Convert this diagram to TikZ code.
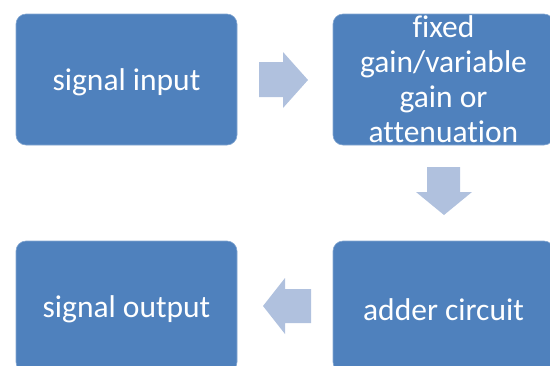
\documentclass[tikz,border=0pt]{standalone}
\usepackage{fontspec}
\setmainfont[Ligatures=NoCommon]{Carlito}
\definecolor{boxblue}{HTML}{4F81BD}
\definecolor{arrowblue}{HTML}{B0C1DE}
\newcommand{\lowtext}[1]{\raisebox{-3pt}[\height][\depth]{#1}}
\begin{document}
\begin{tikzpicture}[x=1pt,y=-1pt,
  block/.style={rectangle, rounded corners=10pt, fill=boxblue, draw=boxblue!70!white, line width=0.6pt,
    minimum width=221pt, minimum height=131pt, inner sep=0pt, text=white, align=center,
    font=\fontsize{31.5}{35}\selectfont},
  blockarrow/.style={fill=arrowblue, draw=none}]
\useasboundingbox (0,0) rectangle (550,365);
\clip (0,0) rectangle (550,365);
\node[block] (in)  at (126.5,79.5)  {\lowtext{signal input}};
\node[block] (amp) at (443.5,79.5)  {fixed\\gain/variable\\gain or\\attenuation};
\node[block] (add) at (443.5,306.5) {\lowtext{adder circuit}};
\node[block] (out) at (126.5,306.5) {\lowtext{signal output}};
% right arrow between in and amp
\fill[blockarrow] (259,62) -- (283,62) -- (283,52) -- (308,80) -- (283,108) -- (283,97) -- (259,97) -- cycle;
% down arrow between amp and add
\fill[blockarrow] (427,167) -- (460,167) -- (460,192) -- (472,192) -- (444,215) -- (416,192) -- (427,192) -- cycle;
% left arrow between add and out
\fill[blockarrow] (311,289) -- (285,289) -- (285,278) -- (263,306) -- (285,334) -- (285,323) -- (311,323) -- cycle;
\end{tikzpicture}
\end{document}
